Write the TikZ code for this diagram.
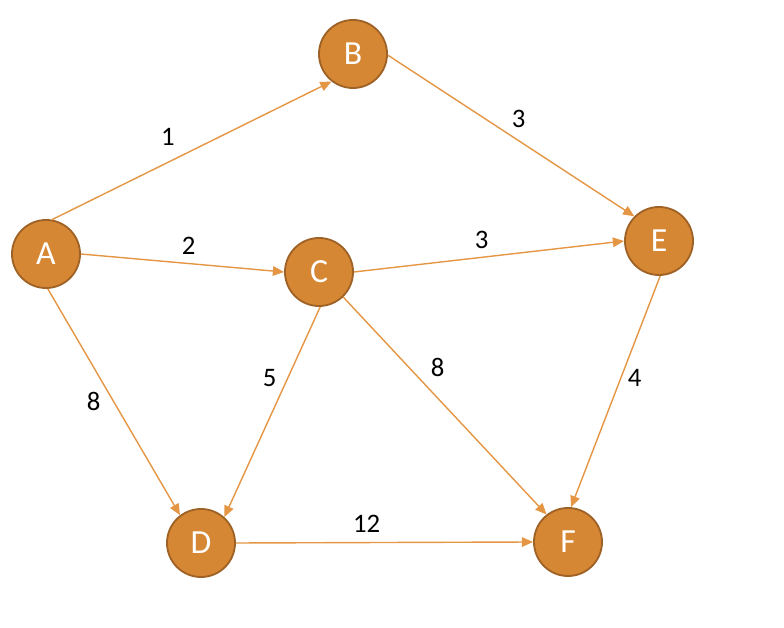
\documentclass[tikz,border=0pt]{standalone}
\usepackage{fontspec}
\setmainfont{Carlito}
\definecolor{nodeorange}{RGB}{214,135,52}
\definecolor{nodebrown}{RGB}{158,98,38}
\definecolor{edgeorange}{RGB}{228,150,68}
\usepackage{tikz}
\usetikzlibrary{arrows.meta}

\begin{document}
\begin{tikzpicture}[x=0.025cm, y=-0.025cm, >={Triangle[length=0.28cm,width=0.24cm]},
    vertex/.style={circle, draw=nodebrown, line width=1.3pt, fill=nodeorange, minimum size=1.7cm, inner sep=0pt, text=white, font=\fontsize{24}{24}\selectfont},
    edge/.style={->, draw=edgeorange, line width=1pt},
    weight/.style={font=\fontsize{19}{19}\selectfont, inner sep=1pt}]
        \path[use as bounding box] (0,0) rectangle (784,628);

        \node (A) [vertex] at (46,254) {A};
        \node (B) [vertex] at (353,54) {B};
        \node (C) [vertex] at (319,272) {C};
        \node (D) [vertex] at (201,543) {D};
        \node (E) [vertex] at (659,241) {E};
        \node (F) [vertex] at (568,542) {F};

        \draw[edge] (A.80) -- node[weight, pos=0.45, shift={(-10,-21)}]{1} (B.232);
        \draw[edge] (A.0) -- node[weight, pos=0.52, shift={(2,-18)}]{2} (C.180);
        \draw[edge] (A.-87) -- node[weight, pos=0.46, shift={(-15,9)}]{8} (D.127);
        \draw[edge] (B.-2) -- node[weight, pos=0.49, shift={(10,-15)}]{3} (E.135);
        \draw[edge] (C.0) -- node[weight, pos=0.48, shift={(-2,-17)}]{3} (E.180);
        \draw[edge] (C.-88) -- node[weight, pos=0.37, shift={(-15,-7)}]{5} (D.48);
        \draw[edge] (C.-46) -- node[weight, pos=0.39, shift={(15,-14)}]{8} (F.128);
        \draw[edge] (E.-88) -- node[weight, pos=0.42, shift={(12,5)}]{4} (F.85);
        \draw[edge] (D.0) -- node[weight, pos=0.44, shift={(0,-19)}]{12} (F.180);
      \end{tikzpicture}
\end{document}
